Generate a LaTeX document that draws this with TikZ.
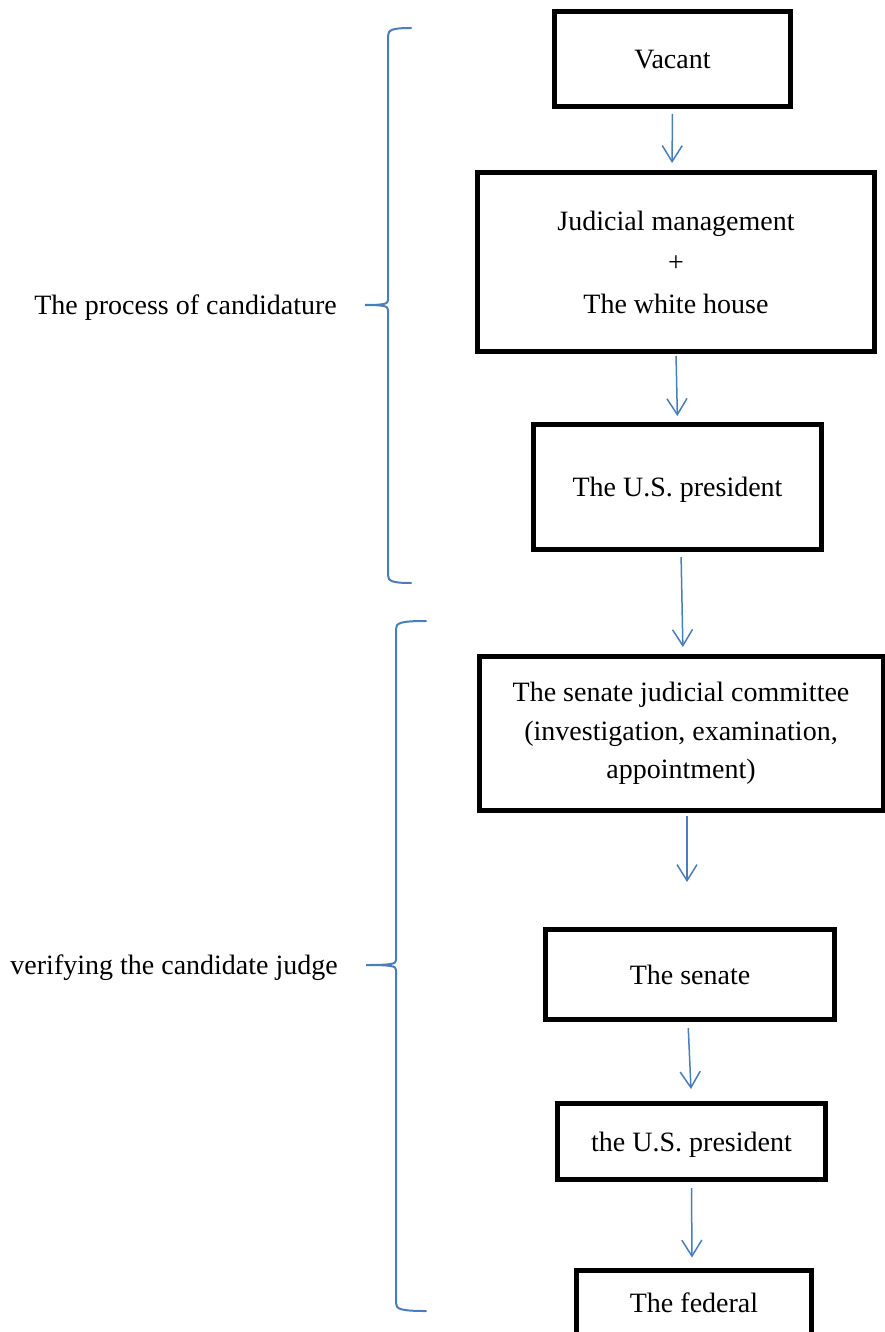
\documentclass[tikz,border=0pt]{standalone}
\usepackage{fontspec}
\setmainfont{Liberation Serif}
\usepackage{tikz}
\usetikzlibrary{positioning}
\usetikzlibrary{arrows.meta}
\definecolor{wordblue}{RGB}{74,126,187}
\tikzstyle{flow box}=[draw,line width=5pt,inner sep=0pt,align=center,text depth=0pt]
\tikzstyle{flow edge}=[-{Straight Barb[length=16pt,width=20pt]},line width=1.5pt,wordblue]
\tikzstyle{stage brace}=[line width=2pt,wordblue,line cap=round]
\tikzstyle{stage label}=[inner sep=0pt]
\newcommand{\flownode}[3][]{
  \node [flow box, #1] (#2) {#3}
}
% #1 tip name, #2 x, #3 top, #4 middle, #5 bottom, #6 stub length
\newcommand{\stagebrace}[6]{
  \draw[stage brace] (#2+#6,#3-4) .. controls (#2+4,#3-4) and (#2,#3-2) .. (#2,#3+4)
    -- (#2,#4-5) .. controls (#2,#4-1) and (#2-4,#4) .. (#2-#6,#4)
    .. controls (#2-4,#4) and (#2,#4+1) .. (#2,#4+5)
    -- (#2,#5-4) .. controls (#2,#5+2) and (#2+4,#5+4) .. (#2+#6,#5+4);
  \coordinate (#1) at (#2-#6,#4)
}

\begin{document}
\begin{tikzpicture}[x=1pt,y=-1pt,font=\fontsize{28}{40}\selectfont]
        \useasboundingbox (0,0) rectangle (885,1332);
        \flownode[at={(672.5,59)},minimum width=236pt,minimum height=95pt]{vacant}{Vacant};
        \flownode[below=61pt of vacant,xshift=3.5pt,minimum width=397pt,minimum height=179pt,text depth=,font=\fontsize{28}{41.5}\selectfont]{judicial}{Judicial management\\+\\The white house};
        \flownode[below=68pt of judicial,xshift=1.5pt,minimum width=288pt,minimum height=125pt]{president}{The U.S. president};
        \flownode[below=102pt of president,xshift=3.5pt,minimum width=404pt,minimum height=154pt,text depth=,font=\fontsize{28}{38.5}\selectfont]{committee}{The senate judicial committee\\(investigation, examination,\\appointment)};
        \flownode[below=114pt of committee,xshift=9pt,minimum width=289pt,minimum height=90pt]{senate}{The senate};
        \flownode[below=79pt of senate,xshift=1.5pt,minimum width=268pt,minimum height=76pt]{signer}{the U.S. president};
        \flownode[below=85.5pt of signer,xshift=2.5pt,minimum width=235pt,minimum height=66pt]{federal}{The federal};
      \draw[flow edge, shorten <=5pt, shorten >=7pt] (vacant.south) -- ([xshift=-4pt]judicial.north);
      \draw[flow edge, shorten <=2pt, shorten >=6pt] (judicial.south) -- (president.north);
      \draw[flow edge, shorten <=5pt, shorten >=7pt] ([xshift=3.5pt]president.south) -- ([xshift=2pt]committee.north);
      \draw[flow edge, shorten <=3pt, shorten >=45pt] ([xshift=6pt]committee.south) -- ([xshift=-3pt]senate.north);
      \draw[flow edge, shorten <=6pt, shorten >=12pt] ([xshift=-2pt]senate.south) -- (signer.north);
      \draw[flow edge, shorten <=6pt, shorten >=10pt] (signer.south) -- ([xshift=-2pt]federal.north);

      \stagebrace{tip1}{388}{32}{305}{579}{23};
      \stagebrace{tip2}{396}{625}{965}{1307}{30};
      \node[stage label, left=28pt of tip1, yshift=-3pt] (candidature) {The process of candidature};
      \node[stage label, left=28pt of tip2, yshift=-3pt] (verifying) {verifying the candidate judge};
      \end{tikzpicture}
\end{document}
